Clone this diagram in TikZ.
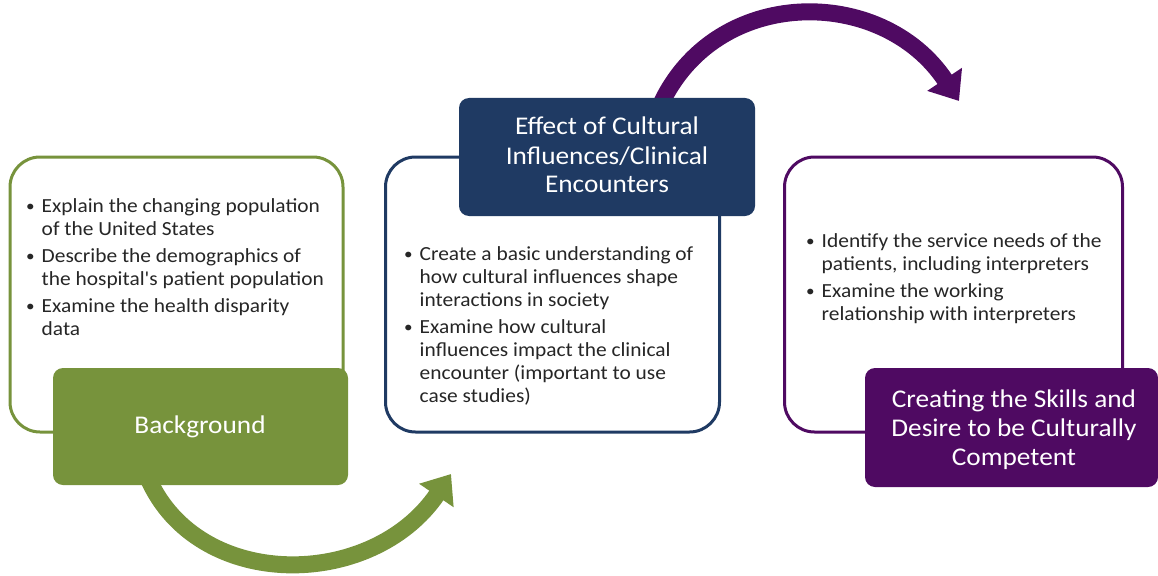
\documentclass[tikz,border=0pt]{standalone}
\usepackage{fontspec}
\setmainfont{Carlito}
\newfontfamily\bodyfont[FakeStretch=1.07]{Carlito}
\usetikzlibrary{arrows.meta}
\definecolor{cgreen}{HTML}{77933C}
\definecolor{cblue}{HTML}{1F3A63}
\definecolor{cpurple}{HTML}{4F0A62}
\definecolor{ctext}{HTML}{262626}
\tikzset{
  outbox/.style={draw, line width=3pt, rounded corners=30pt, fill=white, inner sep=0pt},
  fillbox/.style={rounded corners=10pt, inner sep=0pt},
  bullettext/.style={anchor=base west, inner sep=0pt, text=ctext, font=\bodyfont\fontsize{20}{23}\selectfont},
  titletext/.style={anchor=base, inner sep=0pt, text=white, font=\bodyfont\fontsize{25.5}{29}\selectfont},
  bigarrow/.style={line width=17pt, -{Triangle[length=26pt, width=40pt]}}
}
\newcommand{\bl}{\raisebox{1pt}{\scalebox{0.8}{\textbullet}}}
\begin{document}
\begin{tikzpicture}[x=1pt, y=-1pt]
\useasboundingbox (0,0) rectangle (1158,575);
% arrows (behind)
\coordinate (g0) at (148,478);
\coordinate (g1) at (451,474);
\coordinate (p0) at (660,106);
\coordinate (p1) at (959,101);
\draw[bigarrow, cgreen] (g0) .. controls (198,592) and (372,590) .. (g1);
\draw[bigarrow, cpurple] (p0) .. controls (715,-15) and (882,-15) .. (p1);
% outline boxes
\node[outbox, draw=cgreen, minimum width=333pt, minimum height=275pt] (o1) at (176.5,294.5) {};
\node[outbox, draw=cblue, minimum width=334pt, minimum height=275pt] (o2) at (552.5,294.5) {};
\node[outbox, draw=cpurple, minimum width=338pt, minimum height=275pt] (o3) at (953.5,294.5) {};
% filled boxes
\node[fillbox, fill=cgreen, minimum width=295pt, minimum height=117pt] (f1) at (200.5,426.5) {};
\node[fillbox, fill=cblue, minimum width=296pt, minimum height=118pt] (f2) at (607,157) {};
\node[fillbox, fill=cpurple, minimum width=293pt, minimum height=119pt] (f3) at (1011.5,427.5) {};
% titles
\node[titletext] (t1) at (200,433) {Background};
\node[titletext] (t2) at (607,135) {\begin{tabular}[t]{@{}c@{}}Effect of Cultural\\Influences/Clinical\\Encounters\end{tabular}};
\node[titletext] (t3) at (1014,407) {\begin{tabular}[t]{@{}c@{}}Creating the Skills and\\Desire to be Culturally\\Competent\end{tabular}};
% bullets
\node[bullettext] (b1) at (26,212) {\begin{tabular}[t]{@{}l@{\hspace{7pt}}l@{}}
\bl & Explain the changing population\\
    & of the United States\\[4pt]
\bl & Describe the demographics of\\
    & the hospital's patient population\\[4pt]
\bl & Examine the health disparity\\
    & data
\end{tabular}};
\node[bullettext] (b2) at (404,260) {\begin{tabular}[t]{@{}l@{\hspace{7pt}}l@{}}
\bl & Create a basic understanding of\\
    & how cultural influences shape\\
    & interactions in society\\[4pt]
\bl & Examine how cultural\\
    & influences impact the clinical\\
    & encounter (important to use\\
    & case studies)
\end{tabular}};
\node[bullettext] (b3) at (806,247) {\begin{tabular}[t]{@{}l@{\hspace{7pt}}l@{}}
\bl & Identify the service needs of the\\
    & patients, including interpreters\\[4pt]
\bl & Examine the working\\
    & relationship with interpreters
\end{tabular}};
\end{tikzpicture}
\end{document}
